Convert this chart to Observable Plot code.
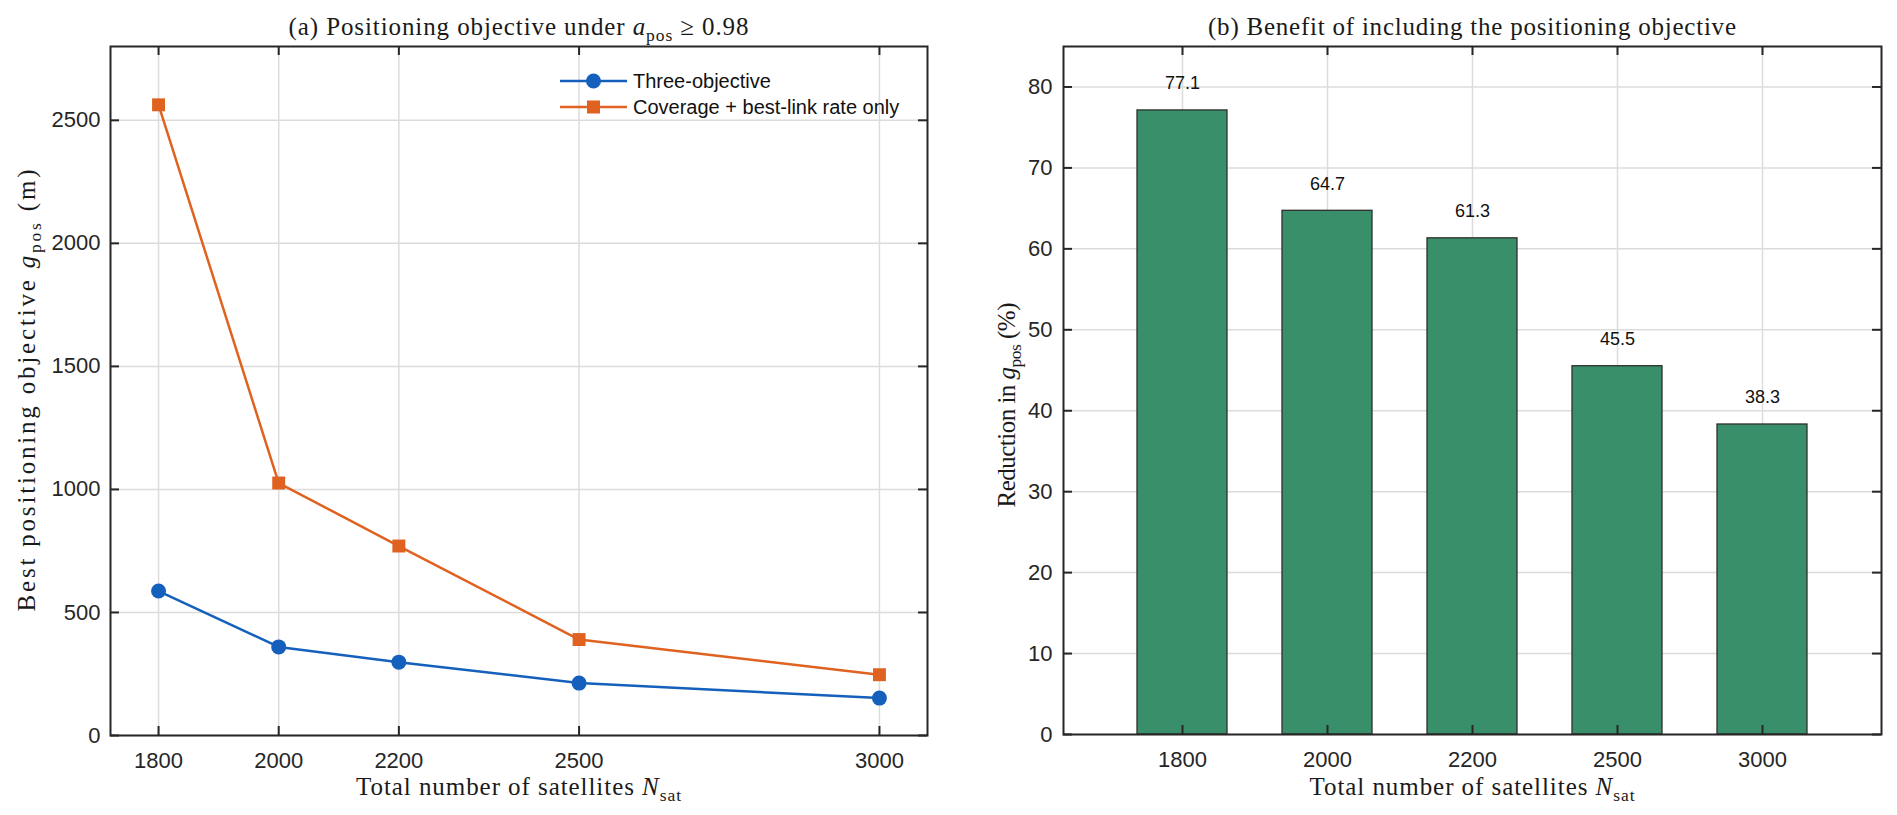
<!DOCTYPE html>
<html>
<head>
<meta charset="utf-8">
<script src="https://cdn.jsdelivr.net/npm/d3@7"></script>
<script src="https://cdn.jsdelivr.net/npm/@observablehq/plot@0.6"></script>
<style>
  html, body { margin: 0; padding: 0; background: #fff; }
  #wrap { display: flex; width: 1897px; height: 815px; background: #fff; }
  svg { display: block; }
</style>
</head>
<body>
<div id="wrap"></div>
<script>
// ---- data ----
const nsat = [1800, 2000, 2200, 2500, 3000];
const gposThree = [587, 360, 298, 213, 152];
const gposTwo = [2563, 1026, 770, 390, 247];
const reduction = [77.1, 64.7, 61.3, 45.5, 38.3];
const xTickLabels = ["1800", "2000", "2200", "2500", "3000"];
const yTicksA = [0, 500, 1000, 1500, 2000, 2500];
const yTicksB = [0, 10, 20, 30, 40, 50, 60, 70, 80];
const seriesNames = ["Three-objective", "Coverage + best-link rate only"];
const seriesColors = ["#1560bd", "#df6220"];
const barColor = "#3a8f6b";

const dataA = nsat.map((n, i) => ({n, three: gposThree[i], two: gposTwo[i]}));
const dataB = xTickLabels.map((label, i) => ({label, r: reduction[i]}));

const sans = "'Liberation Sans', Arial, Helvetica, sans-serif";
const serif = "'Liberation Serif', 'Times New Roman', serif";
const gridColor = "#dcdcdc";
const axisColor = "#262626";
const tickLen = 9;

// ---- left panel ----
const LW = 960, LH = 815, LmL = 110, LmR = 33, LmT = 46, LmB = 80;
const Lfw = LW - LmL - LmR, Lfh = LH - LmT - LmB;

const left = Plot.plot({
  width: LW, height: LH,
  marginLeft: LmL, marginRight: LmR, marginTop: LmT, marginBottom: LmB,
  style: {fontFamily: sans, fontSize: "22px", color: axisColor, background: "white"},
  x: {domain: [1720, 3080]},
  y: {domain: [0, 2800]},
  marks: [
    Plot.ruleX(nsat, {x: d => d, stroke: gridColor, strokeWidth: 1.5}),
    Plot.ruleY(yTicksA, {y: d => d, stroke: gridColor, strokeWidth: 1.5}),
    Plot.line(dataA, {x: "n", y: "two", stroke: seriesColors[1], strokeWidth: 2.5}),
    Plot.dot(dataA, {x: "n", y: "two", symbol: "square", r: 7.3, fill: seriesColors[1], stroke: "none"}),
    Plot.line(dataA, {x: "n", y: "three", stroke: seriesColors[0], strokeWidth: 2.5}),
    Plot.dot(dataA, {x: "n", y: "three", r: 7.5, fill: seriesColors[0], stroke: "none"}),
    // inward ticks
    Plot.ruleY(yTicksA, {y: d => d, stroke: axisColor, strokeWidth: 2, insetRight: Lfw - tickLen}),
    Plot.ruleY(yTicksA, {y: d => d, stroke: axisColor, strokeWidth: 2, insetLeft: Lfw - tickLen}),
    Plot.ruleX(nsat, {x: d => d, stroke: axisColor, strokeWidth: 2, insetTop: Lfh - tickLen}),
    Plot.ruleX(nsat, {x: d => d, stroke: axisColor, strokeWidth: 2, insetBottom: Lfh - tickLen}),
    Plot.axisX(nsat, {tickSize: 0, tickPadding: 17, label: null, tickFormat: d3.format("d"), fontSize: 22, fill: axisColor}),
    Plot.axisY(yTicksA, {tickSize: 0, tickPadding: 10, label: null, tickFormat: d3.format("d"), fontSize: 22, fill: axisColor}),
    Plot.frame({stroke: axisColor, strokeWidth: 2})
  ]
});

// ---- right panel ----
const RW = 937, RH = 815, RmL = 103, RmR = 16, RmT = 46, RmB = 81;
const Rfw = RW - RmL - RmR, Rfh = RH - RmT - RmB;

const right = Plot.plot({
  width: RW, height: RH,
  marginLeft: RmL, marginRight: RmR, marginTop: RmT, marginBottom: RmB,
  style: {fontFamily: sans, fontSize: "22px", color: axisColor, background: "white"},
  x: {type: "band", domain: xTickLabels, paddingInner: 0.38, paddingOuter: 0.51},
  y: {domain: [0, 85]},
  marks: [
    Plot.ruleX(xTickLabels, {x: d => d, stroke: gridColor, strokeWidth: 1.5}),
    Plot.ruleY(yTicksB, {y: d => d, stroke: gridColor, strokeWidth: 1.5}),
    Plot.barY(dataB, {x: "label", y: "r", fill: barColor, stroke: "#2e2e2e", strokeWidth: 1.3}),
    Plot.text(dataB, {x: "label", y: "r", text: d => d.r.toFixed(1), dy: -27, fontSize: 18, fill: "#111", fontFamily: sans}),
    Plot.ruleY(yTicksB, {y: d => d, stroke: axisColor, strokeWidth: 2, insetRight: Rfw - tickLen}),
    Plot.ruleY(yTicksB, {y: d => d, stroke: axisColor, strokeWidth: 2, insetLeft: Rfw - tickLen}),
    Plot.ruleX(xTickLabels, {x: d => d, stroke: axisColor, strokeWidth: 2, insetTop: Rfh - tickLen}),
    Plot.ruleX(xTickLabels, {x: d => d, stroke: axisColor, strokeWidth: 2, insetBottom: Rfh - tickLen}),
    Plot.axisX(xTickLabels, {tickSize: 0, tickPadding: 17, label: null, fontSize: 22, fill: axisColor}),
    Plot.axisY(yTicksB, {tickSize: 0, tickPadding: 11, label: null, fontSize: 22, fill: axisColor}),
    Plot.frame({stroke: axisColor, strokeWidth: 2})
  ]
});

// ---- serif labels with math-style subscripts ----
function addText(svg, {x, y, rotate = 0, parts, size = 25, length}) {
  const t = d3.select(svg).append("text")
    .attr("transform", `translate(${x},${y}) rotate(${rotate})`)
    .attr("text-anchor", "middle")
    .attr("font-family", serif)
    .attr("font-size", size)
    .attr("fill", "#1a1a1a");
  if (length) t.attr("textLength", length).attr("lengthAdjust", "spacing");
  let shift = 0;
  for (const p of parts) {
    const ts = t.append("tspan").text(p.t);
    if (p.i) ts.attr("font-style", "italic");
    const target = p.sub ? 6 : 0;
    if (target !== shift) { ts.attr("dy", target - shift); shift = target; }
    if (p.sub) ts.attr("font-size", size * 0.7);
  }
}

addText(left, {x: LmL + Lfw / 2, y: 35, length: 460, parts: [
  {t: "(a) Positioning objective under "}, {t: "a", i: true}, {t: "pos", sub: true}, {t: " \u2265 0.98"}
]});
addText(left, {x: LmL + Lfw / 2, y: 795, length: 325, parts: [
  {t: "Total number of satellites "}, {t: "N", i: true}, {t: "sat", sub: true}
]});
addText(left, {x: 35, y: LmT + Lfh / 2, rotate: -90, length: 442, parts: [
  {t: "Best positioning objective "}, {t: "g", i: true}, {t: "pos", sub: true}, {t: " (m)"}
]});

addText(right, {x: RmL + Rfw / 2, y: 35, length: 528, parts: [
  {t: "(b) Benefit of including the positioning objective"}
]});
addText(right, {x: RmL + Rfw / 2, y: 795, length: 325, parts: [
  {t: "Total number of satellites "}, {t: "N", i: true}, {t: "sat", sub: true}
]});
addText(right, {x: 55, y: RmT + Rfh / 2 + 15, rotate: -90, length: 205, parts: [
  {t: "Reduction in "}, {t: "g", i: true}, {t: "pos", sub: true}, {t: " (%)"}
]});

// ---- legend (left panel, top right inside) ----
const lg = d3.select(left).append("g").attr("text-anchor", "start");
seriesNames.forEach((name, i) => {
  const yy = 81 + i * 26;
  lg.append("line").attr("x1", 560).attr("x2", 627).attr("y1", yy).attr("y2", yy)
    .attr("stroke", seriesColors[i]).attr("stroke-width", 2.5);
  if (i === 0) {
    lg.append("circle").attr("cx", 593.5).attr("cy", yy).attr("r", 7.5).attr("fill", seriesColors[i]);
  } else {
    lg.append("rect").attr("x", 593.5 - 6.5).attr("y", yy - 6.5).attr("width", 13).attr("height", 13).attr("fill", seriesColors[i]);
  }
  lg.append("text").attr("x", 633).attr("y", yy).attr("dy", "0.35em")
    .attr("text-anchor", "start")
    .attr("font-family", sans).attr("font-size", 20).attr("fill", "#111").text(name);
});

const wrap = document.getElementById("wrap");
wrap.appendChild(left);
wrap.appendChild(right);
</script>
</body>
</html>
